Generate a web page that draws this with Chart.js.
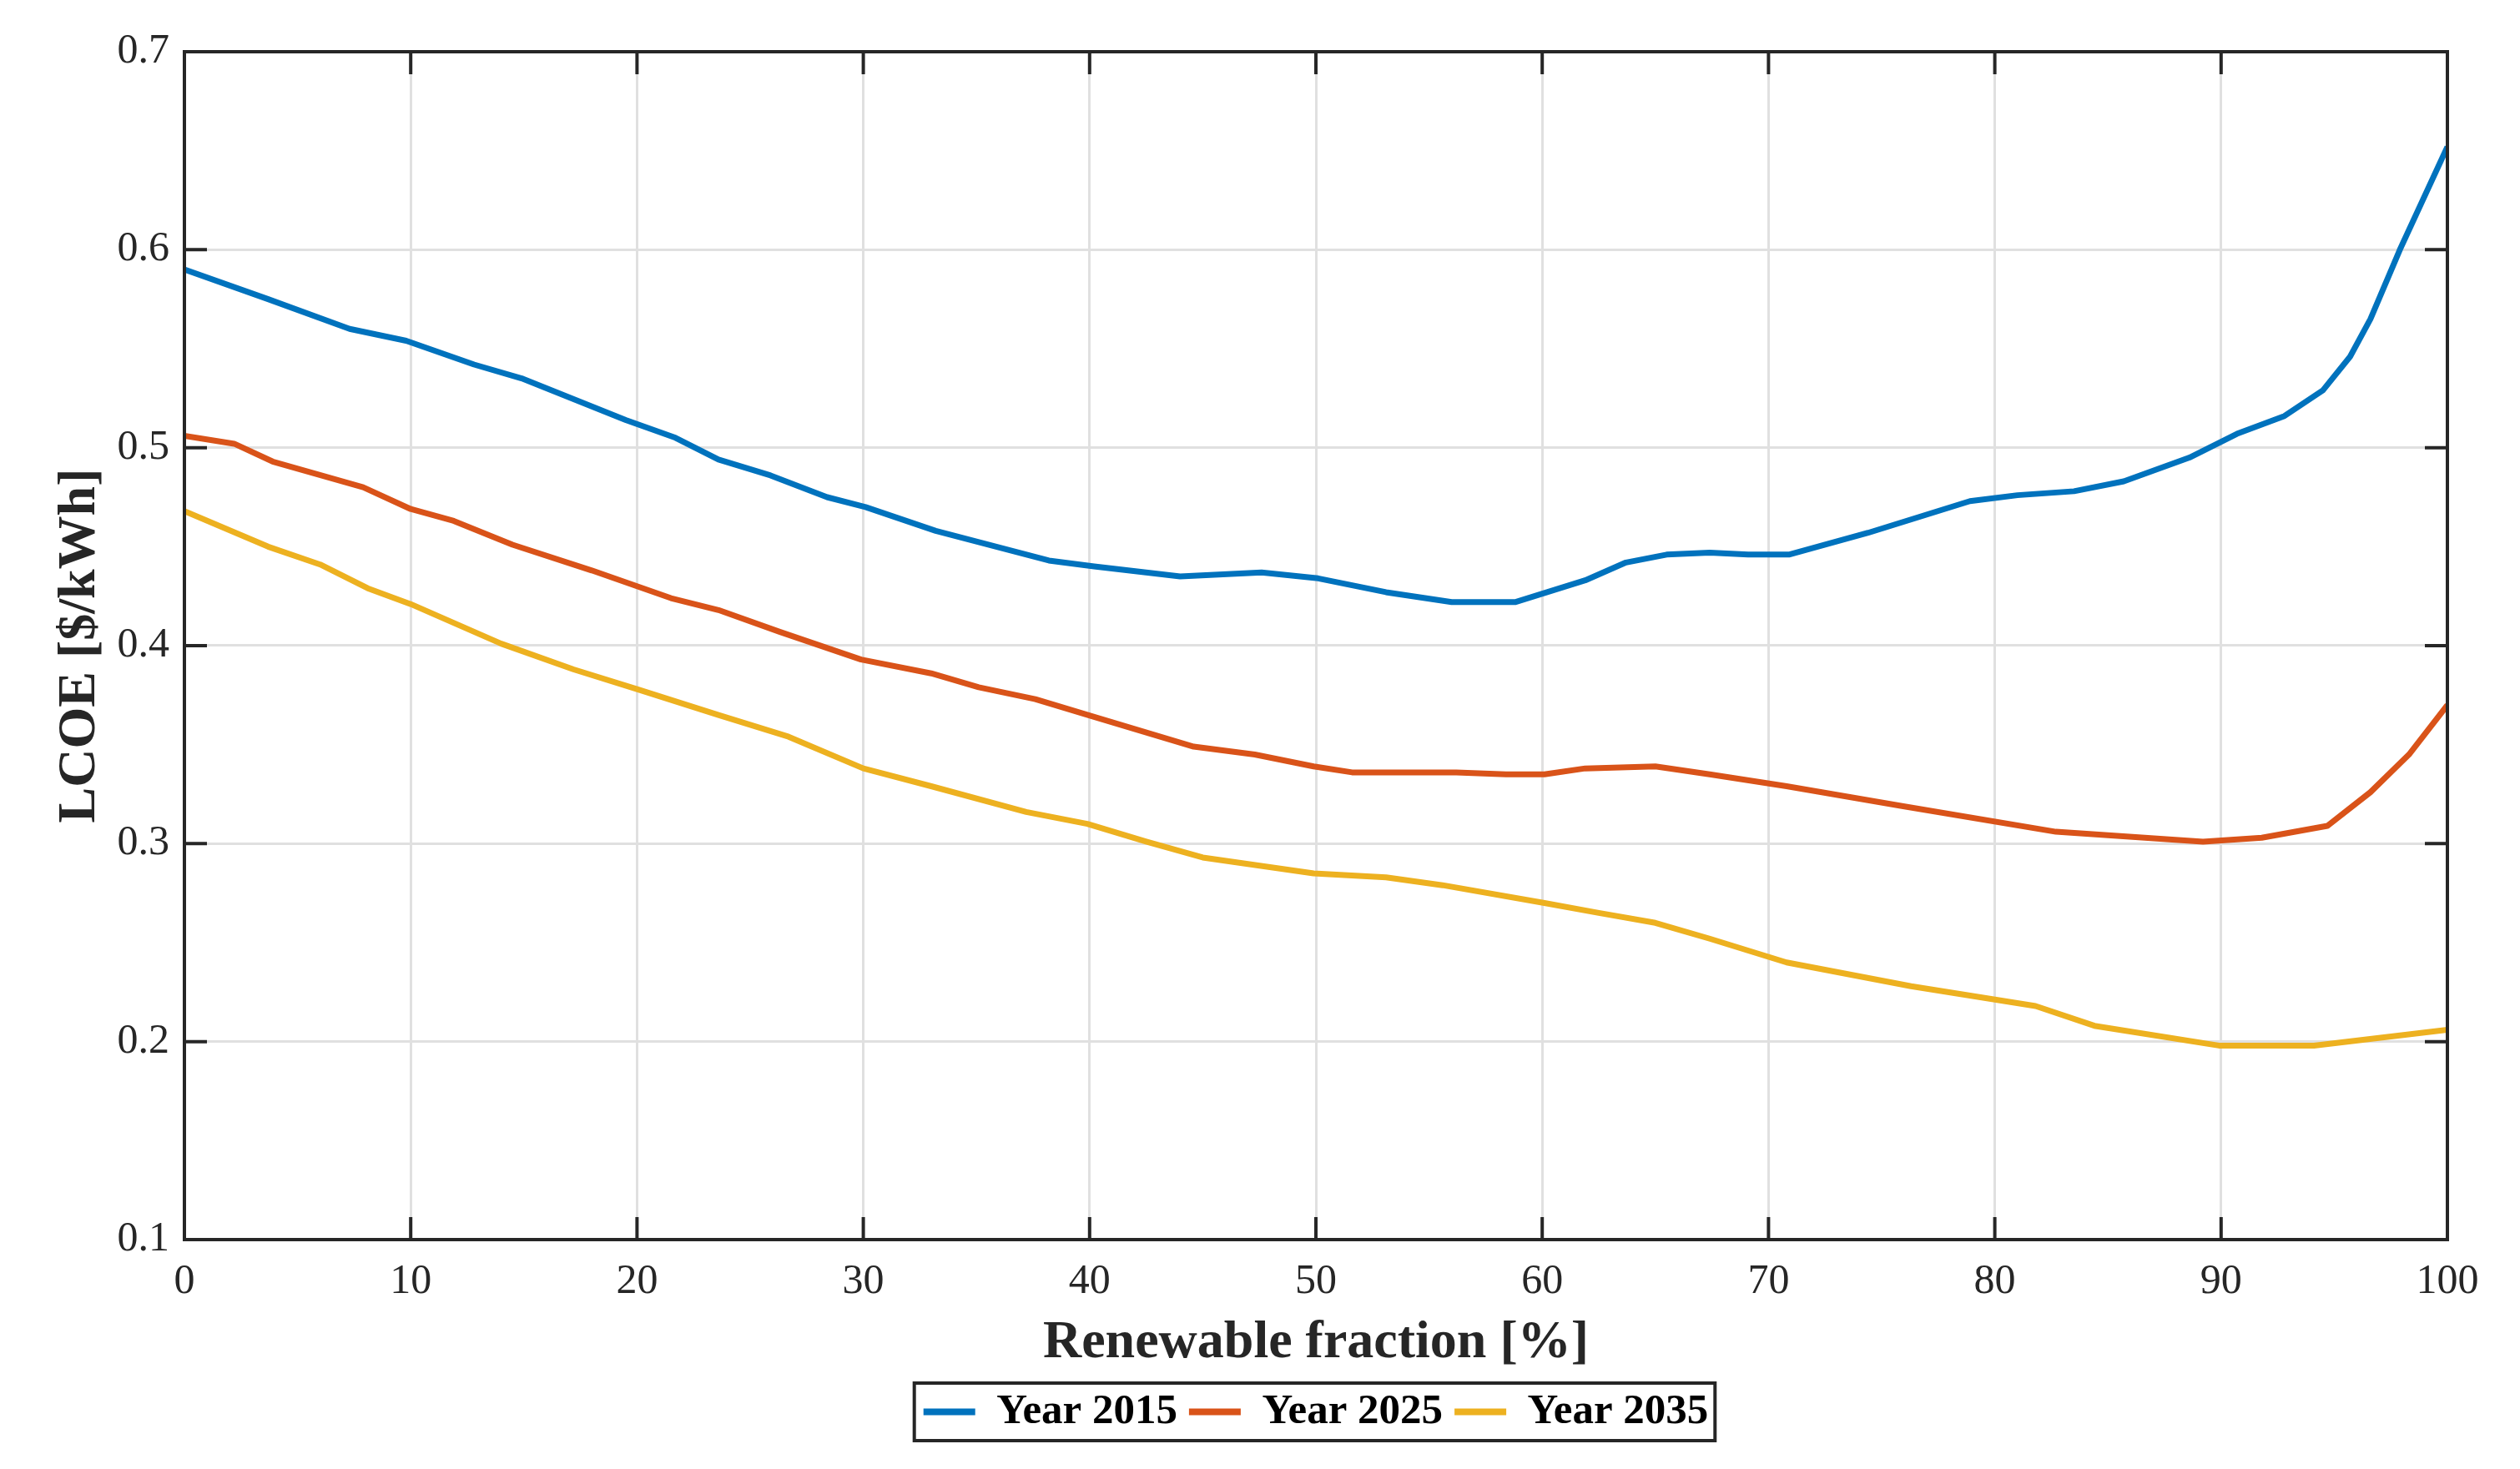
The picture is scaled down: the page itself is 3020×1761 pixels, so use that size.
<!DOCTYPE html>
<html lang="en">
  <head>
    <meta charset="UTF-8" />
    <title>LCOE vs renewable fraction</title>
    <script src="https://cdn.jsdelivr.net/npm/chart.js"></script>
    <style>
      html,
      body {
        margin: 0;
        padding: 0;
        background: #fff;
      }
    </style>
  </head>
  <body>
    <canvas id="graph" width="3020" height="1761"></canvas>

    <script>
      // values
      const x2015 = [0, 3.7, 7.3, 9.8, 12.8, 14.9, 19.5, 21.7, 23.6, 25.9, 28.4, 30.1, 33.2, 38.2, 40.2, 44.0, 47.6, 50.1, 53.1, 56.0, 58.8, 61.9, 63.7, 65.5, 67.4, 69.1, 70.9, 74.4, 78.9, 81.0, 83.5, 85.7, 88.6, 90.7, 92.8, 94.5, 95.7, 96.6, 97.9, 100];
      const y2015 = [0.59, 0.575, 0.56, 0.554, 0.542, 0.535, 0.514, 0.505, 0.494, 0.486, 0.475, 0.47, 0.458, 0.443, 0.44, 0.435, 0.437, 0.434, 0.427, 0.422, 0.422, 0.433, 0.442, 0.446, 0.447, 0.446, 0.446, 0.457, 0.473, 0.476, 0.478, 0.483, 0.495, 0.507, 0.516, 0.529, 0.546, 0.565, 0.6, 0.652];

      const x2025 = [0, 2.2, 3.9, 7.9, 10.0, 11.9, 14.5, 18.0, 21.5, 23.6, 26.3, 29.9, 33.0, 35.1, 37.6, 40.2, 44.6, 47.3, 49.9, 51.6, 56.2, 58.4, 60.1, 61.9, 65.0, 67.4, 70.8, 75.9, 82.7, 89.2, 91.8, 94.7, 96.6, 98.3, 100];
      const y2025 = [0.506, 0.502, 0.493, 0.48, 0.469, 0.463, 0.451, 0.438, 0.424, 0.418, 0.407, 0.393, 0.386, 0.379, 0.373, 0.364, 0.349, 0.345, 0.339, 0.336, 0.336, 0.335, 0.335, 0.338, 0.339, 0.335, 0.329, 0.319, 0.306, 0.301, 0.303, 0.309, 0.326, 0.345, 0.37];

      const x2035 = [0, 3.7, 6.0, 8.1, 10.0, 14.0, 17.2, 20.0, 23.6, 26.7, 30.0, 33.0, 37.2, 39.9, 42.5, 45.0, 49.9, 53.1, 55.6, 60.1, 62.5, 65.0, 67.4, 70.8, 76.3, 81.8, 84.4, 89.9, 94.1, 100];
      const y2035 = [0.468, 0.45, 0.441, 0.429, 0.421, 0.401, 0.388, 0.378, 0.365, 0.354, 0.338, 0.329, 0.316, 0.31, 0.301, 0.293, 0.285, 0.283, 0.279, 0.27, 0.265, 0.26, 0.252, 0.24, 0.228, 0.218, 0.208, 0.198, 0.198, 0.206];

      const seriesNames = ["Year 2015", "Year 2025", "Year 2035"];
      const xTicks = [0, 10, 20, 30, 40, 50, 60, 70, 80, 90, 100];
      const yTicks = [0.1, 0.2, 0.3, 0.4, 0.5, 0.6, 0.7];

      const serif = '"Liberation Serif", "DejaVu Serif", serif';
      const ink = "#262626";

      const toPoints = (xs, ys) => xs.map((x, i) => ({ x: x, y: ys[i] }));

      // MATLAB style box: frame, inward ticks on all four sides, boxed legend
      const matlabBox = {
        id: "matlabBox",
        afterDatasetsDraw(chart) {
          const { ctx, chartArea: a, scales } = chart;
          const t = 27;
          ctx.save();
          ctx.strokeStyle = ink;
          ctx.lineWidth = 4;
          ctx.beginPath();
          scales.x.ticks.forEach((tk) => {
            const px = scales.x.getPixelForValue(tk.value);
            ctx.moveTo(px, a.bottom);
            ctx.lineTo(px, a.bottom - t);
            ctx.moveTo(px, a.top);
            ctx.lineTo(px, a.top + t);
          });
          scales.y.ticks.forEach((tk) => {
            const py = scales.y.getPixelForValue(tk.value);
            ctx.moveTo(a.left, py);
            ctx.lineTo(a.left + t, py);
            ctx.moveTo(a.right, py);
            ctx.lineTo(a.right - t, py);
          });
          ctx.stroke();
          ctx.strokeRect(a.left, a.top, a.right - a.left, a.bottom - a.top);

          const hb = chart.legend.legendHitBoxes;
          if (hb && hb.length) {
            const l = Math.min(...hb.map((h) => h.left)) - 11;
            const r = Math.max(...hb.map((h) => h.left + h.width)) + 8;
            const top = Math.min(...hb.map((h) => h.top)) - 9;
            const bot = Math.max(...hb.map((h) => h.top + h.height)) + 9;
            ctx.lineWidth = 4;
            ctx.strokeRect(l, top, r - l, bot - top);
          }
          ctx.restore();
        },
      };

      new Chart(document.querySelector("#graph").getContext("2d"), {
        type: "line",
        data: {
          datasets: [
            { label: seriesNames[0], data: toPoints(x2015, y2015), borderColor: "#0072BD", backgroundColor: "#0072BD" },
            { label: seriesNames[1], data: toPoints(x2025, y2025), borderColor: "#D95319", backgroundColor: "#D95319" },
            { label: seriesNames[2], data: toPoints(x2035, y2035), borderColor: "#EDB120", backgroundColor: "#EDB120" },
          ],
        },
        options: {
          responsive: false,
          devicePixelRatio: 1,
          animation: false,
          layout: {
            padding: { left: 0, top: 62, right: 87, bottom: 33 },
          },
          elements: {
            line: { borderWidth: 7, tension: 0, fill: false, borderJoinStyle: "round" },
            point: { radius: 0, hoverRadius: 0 },
          },
          plugins: {
            tooltip: { enabled: false },
            legend: {
              position: "bottom",
              fullSize: false,
              labels: {
                color: "#000",
                font: { family: serif, size: 51, weight: "bold" },
                boxWidth: 62,
                boxHeight: 8,
                padding: 14,
                generateLabels(chart) {
                  const items = Chart.defaults.plugins.legend.labels.generateLabels(chart);
                  return items.map((it) => Object.assign(it, { fillStyle: it.strokeStyle, lineWidth: 0 }));
                },
              },
            },
          },
          scales: {
            x: {
              type: "linear",
              min: 0,
              max: 100,
              afterBuildTicks: (s) => {
                s.ticks = xTicks.map((v) => ({ value: v }));
              },
              afterFit: (s) => {
                s.height = 167;
              },
              grid: { color: "#e0e0e0", lineWidth: 3, drawTicks: false },
              border: { display: false },
              ticks: {
                color: ink,
                padding: 21,
                font: { family: serif, size: 50 },
              },
              title: {
                display: true,
                text: "Renewable fraction [%]",
                color: ink,
                font: { family: serif, size: 64, weight: "bold" },
                padding: { top: 0, bottom: 4 },
              },
            },
            y: {
              type: "linear",
              min: 0.1,
              max: 0.7,
              afterBuildTicks: (s) => {
                s.ticks = yTicks.map((v) => ({ value: v }));
              },
              afterFit: (s) => {
                s.width = 221;
              },
              grid: { color: "#e0e0e0", lineWidth: 3, drawTicks: false },
              border: { display: false },
              ticks: {
                color: ink,
                padding: 18,
                font: { family: serif, size: 50 },
                callback: (v) => v.toFixed(1),
              },
              title: {
                display: true,
                text: "LCOE [$/kWh]",
                color: ink,
                font: { family: serif, size: 64, weight: "bold" },
                padding: { top: 58, bottom: 0 },
              },
            },
          },
        },
        plugins: [matlabBox],
      });
    </script>
  </body>
</html>
